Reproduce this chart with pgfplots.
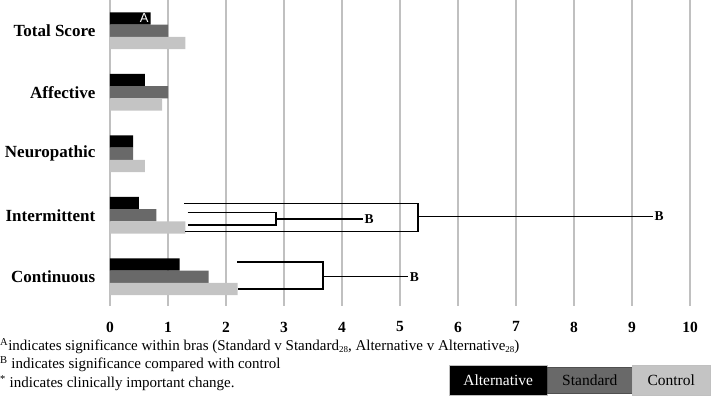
\documentclass[border=0pt]{standalone}
\usepackage{fontspec}
\setmainfont{Liberation Serif}
\newfontfamily\sansA{Liberation Sans}
\usepackage{pgfplots}
\pgfplotsset{compat=1.18}
\definecolor{alt}{RGB}{0,0,0}
\definecolor{std}{RGB}{105,105,105}
\definecolor{ctl}{RGB}{196,196,196}
\definecolor{gridc}{RGB}{192,192,192}
\newcommand{\sub}[1]{\raisebox{-0.25ex}{\fontsize{9}{9}\selectfont #1}}

\begin{document}
\begin{tikzpicture}
\begin{axis}[
  scale only axis,
  width=580pt, height=306.3pt,
  xmin=0, xmax=10,
  ymin=-0.5, ymax=4.48,
  y dir=reverse,
  xtick={0,...,10},
  ytick={0,1,2,3,4},
  yticklabels={Total Score, Affective, Neuropathic, Intermittent, Continuous},
  xmajorgrids, grid style={gridc, line width=1.5pt},
  axis line style={draw=none},
  major tick length=0pt,
  /pgf/number format/assume math mode=true,
  xticklabel style={font=\bfseries\fontsize{15.5}{15.5}\selectfont, yshift=-12pt},
  yticklabel style={font=\bfseries\fontsize{17}{17}\selectfont, inner sep=0pt, xshift=-14.5pt},
  bar width=0.2,
  clip=false,
]
\addplot[xbar, bar shift=-0.2, fill=alt, draw=none] coordinates {(0.7,0) (0.6,1) (0.4,2) (0.5,3) (1.2,4)};
\addplot[xbar, bar shift=0, fill=std, draw=none] coordinates {(1.0,0) (1.0,1) (0.4,2) (0.8,3) (1.7,4)};
\addplot[xbar, bar shift=0.2, fill=ctl, draw=none] coordinates {(1.3,0) (0.9,1) (0.6,2) (1.3,3) (2.2,4)};
% brackets Intermittent outer
\addplot[black, line width=1.4pt, mark=none, sharp plot] coordinates {(1.28,2.81) (5.31,2.81) (5.31,3.26) (1.3,3.26)};
\addplot[black, line width=1.4pt, mark=none, sharp plot] coordinates {(5.31,3.02) (9.36,3.02)};
% inner
\addplot[black, line width=1.4pt, mark=none, sharp plot] coordinates {(1.34,2.955) (2.86,2.955) (2.86,3.16) (1.34,3.16)};
\addplot[black, line width=1.4pt, mark=none, sharp plot] coordinates {(2.86,3.06) (4.36,3.06)};
% continuous
\addplot[black, line width=1.4pt, mark=none, sharp plot] coordinates {(2.19,3.76) (3.67,3.76) (3.67,4.2) (2.2,4.2)};
\addplot[black, line width=1.4pt, mark=none, sharp plot] coordinates {(3.67,4.0) (5.14,4.0)};
\node[anchor=west, inner sep=1.5pt, font=\bfseries\fontsize{13.5}{13.5}\selectfont] at (axis cs:9.36,3.02) {B};
\node[anchor=west, inner sep=1.5pt, font=\bfseries\fontsize{13.5}{13.5}\selectfont] at (axis cs:4.36,3.06) {B};
\node[anchor=west, inner sep=1.5pt, font=\bfseries\fontsize{13.5}{13.5}\selectfont] at (axis cs:5.14,4.0) {B};
\node[anchor=east, inner sep=0pt, text=white, font=\sansA\fontsize{13}{13}\selectfont] at (axis cs:0.67,-0.2) {A};
\coordinate (O) at (axis cs:0,-0.5);
\end{axis}
\node[anchor=base west, inner sep=0pt, font=\fontsize{15}{18}\selectfont] at ([shift={(-110pt,-350.5pt)}]O) {\textsuperscript{A}indicates significance within bras (Standard v Standard\sub{28}, Alternative v Alternative\sub{28})};
\node[anchor=base west, inner sep=0pt, font=\fontsize{15}{18}\selectfont] at ([shift={(-110pt,-369pt)}]O) {\textsuperscript{B} indicates significance compared with control};
\node[anchor=base west, inner sep=0pt, font=\fontsize{15}{18}\selectfont] at ([shift={(-110pt,-387.5pt)}]O) {\textsuperscript{*} indicates clinically important change.};
\node[fill=alt, draw=gridc, line width=0.5pt, text=white, minimum width=98pt, minimum height=30pt, anchor=north west, inner sep=0pt, font=\fontsize{15.5}{15.5}\selectfont] at ([shift={(339pt,-365pt)}]O) {Alternative};
\node[fill=std, draw={rgb,255:red,80;green,80;blue,80}, line width=0.5pt, text=black, minimum width=85pt, minimum height=26pt, anchor=north west, inner sep=0pt, font=\fontsize{15.5}{15.5}\selectfont] at ([shift={(437pt,-367pt)}]O) {Standard};
\node[fill=ctl, draw=gridc, line width=0.5pt, text=black, minimum width=78pt, minimum height=30pt, anchor=north west, inner sep=0pt, font=\fontsize{15.5}{15.5}\selectfont] at ([shift={(522pt,-365pt)}]O) {Control};
\pgfresetboundingbox
\path ([shift={(-110pt,0pt)}]O) rectangle ([shift={(601pt,-403pt)}]O);
\end{tikzpicture}
\end{document}
